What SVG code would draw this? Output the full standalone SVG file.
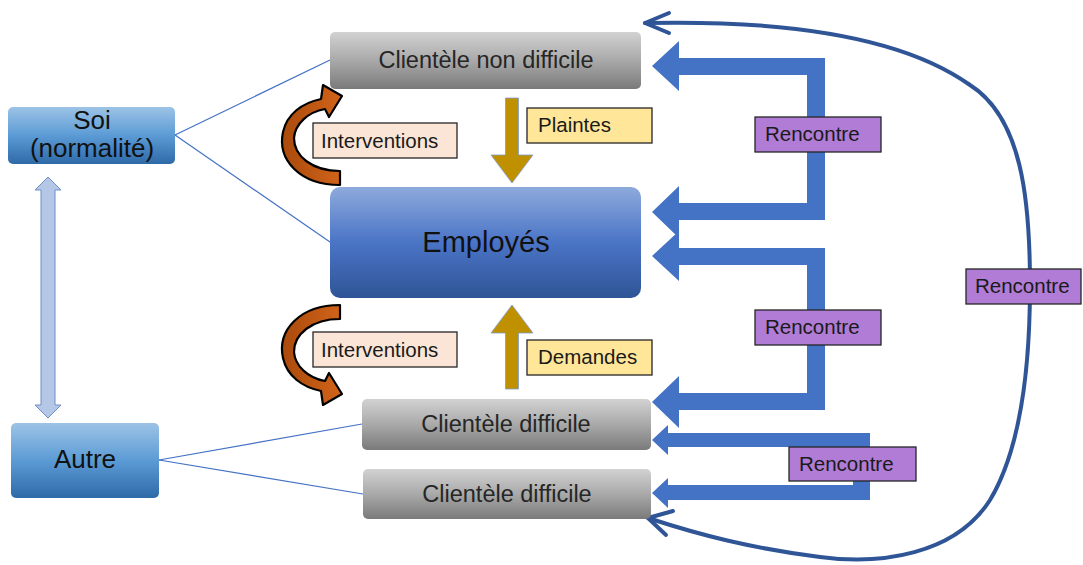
<svg xmlns="http://www.w3.org/2000/svg" width="1083" height="565" viewBox="0 0 1083 565">
  <defs>
    <linearGradient id="gGray" x1="0" y1="0" x2="0" y2="1">
      <stop offset="0" stop-color="#d2d2d2"/>
      <stop offset="0.5" stop-color="#a9a9a9"/>
      <stop offset="1" stop-color="#7a7a7a"/>
    </linearGradient>
    <linearGradient id="gEmp" x1="0" y1="0" x2="0" y2="1">
      <stop offset="0" stop-color="#8eaadc"/>
      <stop offset="0.5" stop-color="#4a74c6"/>
      <stop offset="1" stop-color="#2f5496"/>
    </linearGradient>
    <linearGradient id="gSide" x1="0" y1="0" x2="0" y2="1">
      <stop offset="0" stop-color="#9dc3e6"/>
      <stop offset="0.5" stop-color="#5b9bd5"/>
      <stop offset="1" stop-color="#2e6aa8"/>
    </linearGradient>
    <linearGradient id="gOrange" x1="0" y1="0" x2="1" y2="0">
      <stop offset="0" stop-color="#a94a0c"/>
      <stop offset="1" stop-color="#d2641a"/>
    </linearGradient>
    <path id="curvArrow" d="M340 185 C300 185 277 160 283 132 C287 114 302 103 321 99 L323 85 L342 96 L329 117 L325 109 C308 112 295 124 294 138 C294 156 312 171 340 171 Z"/>
  </defs>
  <style>
    .t { font-family: "Liberation Sans", Arial, sans-serif; }
    .gray { fill: url(#gGray); }
    .gtxt { font-size: 23.5px; fill: #262626; text-anchor: middle; }
    .lbl { stroke: #262626; stroke-width: 1.3; }
    .ltxt { font-size: 20.5px; fill: #1a1a1a; }
    .ren { fill: #b07cd6; }
    .link { stroke: #4472c4; stroke-width: 1.2; fill: none; }
    .blk { fill: #4472c4; }
    .gold { fill: #bf9000; stroke: #7f9ccf; stroke-width: 0.8; }
    .curv { fill: url(#gOrange); stroke: #000; stroke-width: 2.2; stroke-linejoin: round; }
    .big { fill: none; stroke: #2f5597; stroke-width: 4; stroke-linecap: round; stroke-linejoin: round; }
  </style>

  <g id="connectors">
    <line class="link" x1="175" y1="135" x2="330" y2="60"/>
    <line class="link" x1="175" y1="135" x2="330" y2="242"/>
    <line class="link" x1="159" y1="460" x2="362" y2="424"/>
    <line class="link" x1="159" y1="460" x2="363" y2="494"/>
    <polygon points="41,190 35,190 48,177 61,190 55,190 55,405 61,405 48,418 35,405 41,405" fill="#b4c7e7" stroke="#6f8fc9" stroke-width="1"/>
    <polygon class="gold" points="505.5,98 518.5,98 518.5,155 533,155 512,183 491,155 505.5,155"/>
    <polygon class="gold" points="505.5,389 518.5,389 518.5,333 533,333 512,305 491,333 505.5,333"/>
    <use href="#curvArrow" class="curv"/>
    <use href="#curvArrow" class="curv" transform="translate(0,490) scale(1,-1)"/>
    <polygon class="blk" points="652,66 679,41 679,58 825,58 825,220 679,220 679,238 652,212 679,186 679,203 807,203 807,75 679,75 679,91"/>
    <polygon class="blk" points="652,256 679,231 679,248 825,248 825,410 679,410 679,428 652,402 679,376 679,393 807,393 807,265 679,265 679,281"/>
    <polygon class="blk" points="652,440 668,425 668,433 870,433 870,500 668,500 668,508 652,493 668,478 668,485 853,485 853,447 668,447 668,455"/>
    <path class="big" d="M645 23 C780 20 900 35 970 85 C1022 118 1030 200 1030 285 C1030 370 1020 450 990 500 C955 555 880 565 820 557 C750 548 700 535 648 518"/>
    <polyline class="big" points="669,13 645,23 669,33"/>
    <polyline class="big" points="673,511 648,518 666,535"/>
  </g>

  <g id="soi">
    <rect x="8" y="107" width="167" height="57" rx="5" fill="url(#gSide)"/>
    <text class="t" x="92" y="129" font-size="26" fill="#111" text-anchor="middle">Soi</text>
    <text class="t" x="92" y="157" font-size="26" fill="#111" text-anchor="middle">(normalité)</text>
  </g>
  <g id="autre">
    <rect x="11" y="423" width="148" height="75" rx="5" fill="url(#gSide)"/>
    <text class="t" x="85" y="468" font-size="26" fill="#111" text-anchor="middle">Autre</text>
  </g>
  <g id="clientele-non-difficile">
    <rect class="gray" x="330" y="32" width="311" height="57" rx="5"/>
    <text class="t gtxt" x="486" y="68">Clientèle non difficile</text>
  </g>
  <g id="employes">
    <rect x="330" y="187" width="311" height="111" rx="10" fill="url(#gEmp)"/>
    <text class="t" x="486" y="252" font-size="29" fill="#111" text-anchor="middle">Employés</text>
  </g>
  <g id="clientele-difficile-1">
    <rect class="gray" x="362" y="399" width="289" height="51" rx="5"/>
    <text class="t gtxt" x="506" y="432">Clientèle difficile</text>
  </g>
  <g id="clientele-difficile-2">
    <rect class="gray" x="363" y="469" width="288" height="50" rx="5"/>
    <text class="t gtxt" x="507" y="502">Clientèle difficile</text>
  </g>

  <g id="label-interventions-1">
    <rect class="lbl" x="313" y="123" width="144" height="35" fill="#fbe5d6"/>
    <text class="t ltxt" x="321" y="148">Interventions</text>
  </g>
  <g id="label-interventions-2">
    <rect class="lbl" x="313" y="332" width="144" height="35" fill="#fbe5d6"/>
    <text class="t ltxt" x="321" y="357">Interventions</text>
  </g>
  <g id="label-plaintes">
    <rect class="lbl" x="527" y="108" width="125" height="35" fill="#ffe699"/>
    <text class="t ltxt" x="538" y="132">Plaintes</text>
  </g>
  <g id="label-demandes">
    <rect class="lbl" x="527" y="340" width="125" height="35" fill="#ffe699"/>
    <text class="t ltxt" x="538" y="364">Demandes</text>
  </g>
  <g id="label-rencontre-1">
    <rect class="lbl ren" x="755" y="117" width="126" height="35"/>
    <text class="t ltxt" x="765" y="141">Rencontre</text>
  </g>
  <g id="label-rencontre-2">
    <rect class="lbl ren" x="755" y="310" width="126" height="35"/>
    <text class="t ltxt" x="765" y="334">Rencontre</text>
  </g>
  <g id="label-rencontre-3">
    <rect class="lbl ren" x="789" y="447" width="127" height="34"/>
    <text class="t ltxt" x="799" y="471">Rencontre</text>
  </g>
  <g id="label-rencontre-4">
    <rect class="lbl ren" x="966" y="269" width="115" height="35"/>
    <text class="t ltxt" x="975" y="293">Rencontre</text>
  </g>
</svg>
